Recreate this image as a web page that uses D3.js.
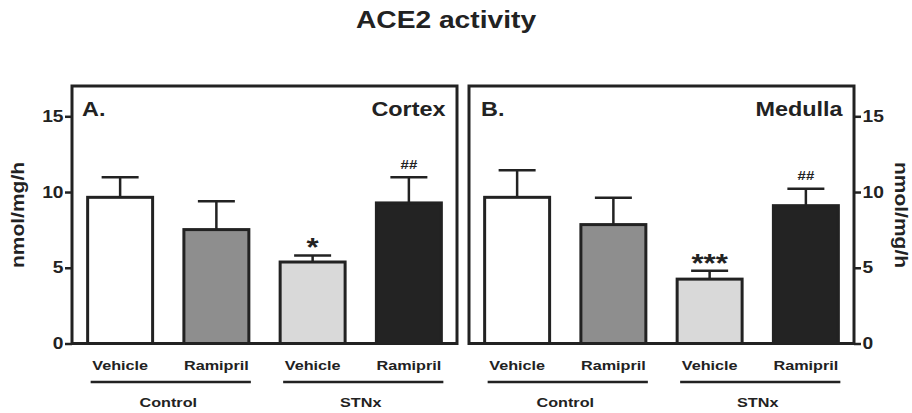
<!DOCTYPE html>
<html><head><meta charset="utf-8">
<script src="https://cdn.jsdelivr.net/npm/d3@7"></script>
<style>body{margin:0;background:#fff}svg{display:block}text{font-family:"Liberation Sans",Arial,sans-serif;font-weight:bold;fill:#222}</style>
</head><body><svg id="c" width="912" height="413"></svg>
<script>
const categories = ["Vehicle", "Ramipril", "Vehicle", "Ramipril"];
const groups = ["Control", "STNx"];
const cortexMean = [9.65, 7.52, 5.38, 9.28];
const cortexErr  = [10.98, 9.39, 5.81, 10.98];
const medullaMean = [9.65, 7.85, 4.25, 9.1];
const medullaErr  = [11.44, 9.62, 4.8, 10.21];
const cortexMarks = ["", "", "*", "##"];
const medullaMarks = ["", "", "***", "##"];
const fills = ["#ffffff", "#8e8e8e", "#d9d9d9", "#232323"];
const yTicks = [0, 5, 10, 15];
const panels = [
  {letter: "A.", region: "Cortex", mean: cortexMean, err: cortexErr, marks: cortexMarks, x0: 72, x1: 457, axis: "left"},
  {letter: "B.", region: "Medulla", mean: medullaMean, err: medullaErr, marks: medullaMarks, x0: 469, x1: 854, axis: "right"}
];
const yLabel = "nmol/mg/h";
const title = "ACE2 activity";

const svg = d3.select("#c");
const ink = "#222";
const SX = 1.2; // wide glyphs of the original face
const y = d3.scaleLinear().domain([0, 17]).range([343.5, 86]);

function label(parent, x, y0, txt, size, anchor, rot, weight) {
  return parent.append("text")
    .attr("transform", `translate(${x},${y0})` + (rot ? ` rotate(${rot})` : "") + ` scale(${SX},1)`)
    .attr("text-anchor", anchor || "start")
    .style("font-size", size + "px")
    .style("font-weight", weight || "bold")
    .text(txt);
}

label(svg, 446, 27.5, title, 23.5, "middle");

panels.forEach((p) => {
  const x = d3.scaleBand().domain(d3.range(categories.length)).range([p.x0, p.x1])
    .paddingInner(0.325).paddingOuter(0.1625);
  const g = svg.append("g");
  g.selectAll("rect.bar").data(p.mean).join("rect").attr("class", "bar")
    .attr("x", (d, i) => x(i)).attr("width", x.bandwidth())
    .attr("y", d => y(d)).attr("height", d => y(0) - y(d))
    .attr("fill", (d, i) => fills[i]).attr("stroke", ink).attr("stroke-width", 3);
  const cap = 37;
  p.err.forEach((e, i) => {
    const cx = x(i) + x.bandwidth() / 2;
    g.append("line").attr("x1", cx).attr("x2", cx).attr("y1", y(p.mean[i])).attr("y2", y(e))
      .attr("stroke", ink).attr("stroke-width", 2.5);
    g.append("line").attr("x1", cx - cap / 2).attr("x2", cx + cap / 2).attr("y1", y(e)).attr("y2", y(e))
      .attr("stroke", ink).attr("stroke-width", 2.5);
    if (p.marks[i]) {
      const star = p.marks[i].startsWith("*");
      if (star) label(g, cx, y(e) + 1, p.marks[i], 26, "middle");
      else label(g, cx, y(e) - 8.5, p.marks[i], 12.5, "middle");
    }
  });
  g.append("rect").attr("x", p.x0).attr("y", 86).attr("width", p.x1 - p.x0).attr("height", y(0) - 86)
    .attr("fill", "none").attr("stroke", ink).attr("stroke-width", 3);
  const left = p.axis === "left";
  const ax = (left ? d3.axisLeft(y) : d3.axisRight(y)).tickValues(yTicks).tickSize(7).tickPadding(1.5);
  const axg = g.append("g").attr("transform", `translate(${left ? p.x0 : p.x1},0)`).call(ax);
  axg.select(".domain").remove();
  axg.selectAll("line").attr("stroke", ink).attr("stroke-width", 2.5);
  axg.selectAll("text").each(function () {
    const t = d3.select(this);
    const tx = +t.attr("x");
    t.attr("x", 0).attr("transform", `translate(${tx},0) scale(${SX},1)`)
      .style("font-size", "16px").style("font-family", '"Liberation Sans",Arial,sans-serif')
      .style("font-weight", "bold").attr("fill", ink);
  });
  label(g, p.x0 + (left ? 10 : 12), 116, p.letter, 19.5, "start");
  label(g, p.x1 - 11.5, 116, p.region, 19.5, "end");
  categories.forEach((c, i) => {
    label(g, x(i) + x.bandwidth() / 2, 370, c, 13.5, "middle");
  });
  groups.forEach((gr, k) => {
    const a = x(2 * k), b = x(2 * k + 1) + x.bandwidth();
    g.append("line").attr("x1", a + 3).attr("x2", b + 2).attr("y1", 382).attr("y2", 382)
      .attr("stroke", ink).attr("stroke-width", 2.5);
    label(g, (a + b) / 2, 407, gr, 13.5, "middle");
  });
});

label(svg, 23.5, 215, yLabel, 17.5, "middle", -90);
label(svg, 895, 215, yLabel, 17.5, "middle", 90);
</script></body></html>
